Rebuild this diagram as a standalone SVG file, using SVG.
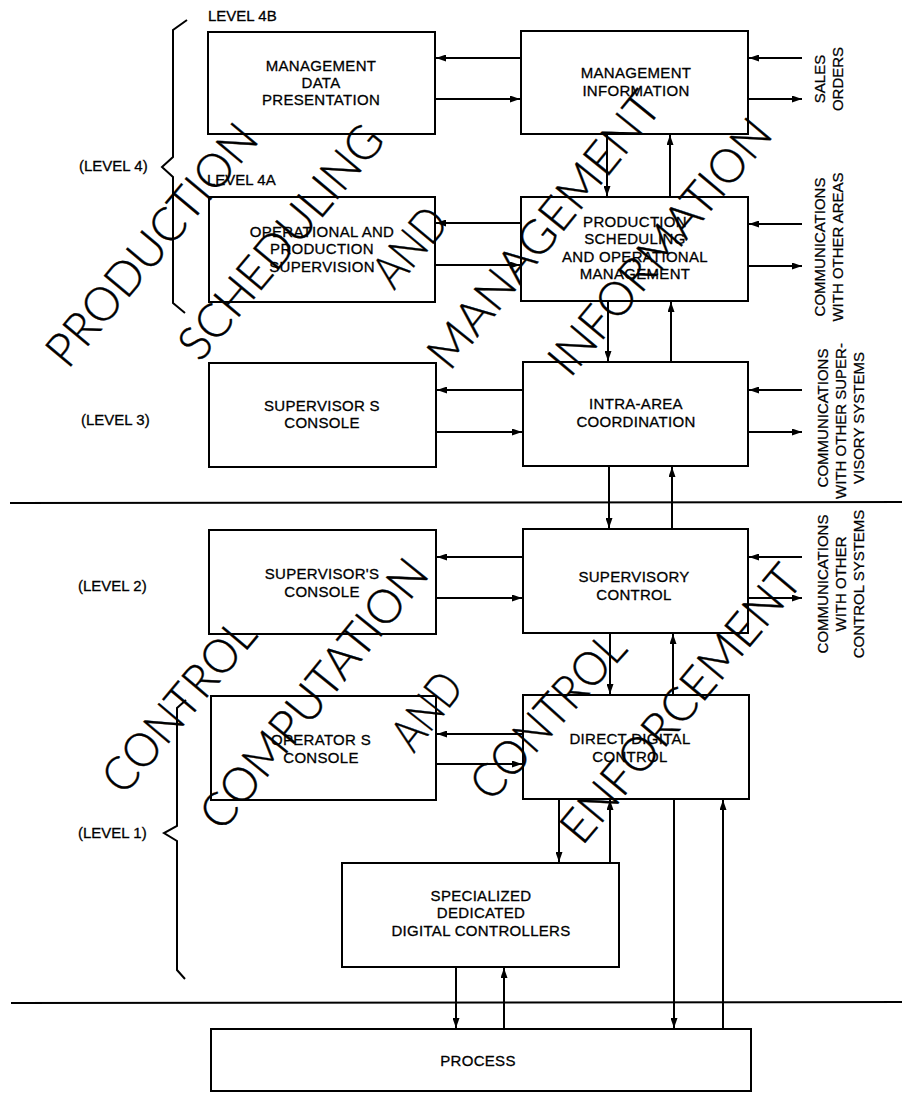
<svg xmlns="http://www.w3.org/2000/svg" width="902" height="1093" viewBox="0 0 902 1093">
  <defs>
    <marker id="ah" markerWidth="10" markerHeight="7" refX="10" refY="3.5" orient="auto" markerUnits="userSpaceOnUse">
      <path d="M0,0 L10,3.5 L0,7 z" fill="#000"/>
    </marker>
  </defs>
  <style>
    .box{fill:#fff;fill-opacity:0;stroke:#000;stroke-width:2}
    .t{font-family:"Liberation Sans",Arial,sans-serif;font-size:15px;fill:#000;stroke:#000;stroke-width:0.3;text-anchor:middle;letter-spacing:0.3px}
    .lv{font-family:"Liberation Sans",Arial,sans-serif;font-size:15px;fill:#000;stroke:#000;stroke-width:0.3}
    .side{font-family:"Liberation Sans",Arial,sans-serif;font-size:15px;fill:#000;stroke:#000;stroke-width:0.25;text-anchor:middle}
    .c{stroke:#000;stroke-width:2;fill:none}
    .a{marker-end:url(#ah)}
    .big{font-family:Lato,"Liberation Sans",sans-serif;font-weight:300;font-size:47px;fill:#000;stroke:#000;stroke-width:0.4;text-anchor:middle}
  </style>
  <rect width="902" height="1093" fill="#fff"/>

  <!-- level separators -->
  <g id="separators" class="c">
    <line x1="10" y1="503" x2="902" y2="502"/>
    <line x1="11" y1="1003" x2="902" y2="1002"/>
  </g>

  <!-- level braces and labels -->
  <g id="levels">
    <path class="c" d="M187,20 L173,30 L173,157 L162,167 L173,177 L173,303 L185,313"/>
    <path class="c" d="M186,700 L177,708 L177,826 L164,833 L177,841 L177,970 L185,979"/>
    <text class="lv" x="208" y="21">LEVEL 4B</text>
    <text class="lv" x="207" y="185">LEVEL 4A</text>
    <text class="lv" x="79" y="171">(LEVEL 4)</text>
    <text class="lv" x="81" y="425">(LEVEL 3)</text>
    <text class="lv" x="78" y="591">(LEVEL 2)</text>
    <text class="lv" x="78" y="838">(LEVEL 1)</text>
  </g>

  <!-- function blocks -->
  <g id="mgmt-data-presentation">
    <rect class="box" x="208" y="32" width="227" height="102"/>
    <text class="t" x="321" y="71">MANAGEMENT</text>
    <text class="t" x="321" y="88">DATA</text>
    <text class="t" x="321" y="105">PRESENTATION</text>
  </g>
  <g id="mgmt-information">
    <rect class="box" x="521" y="31" width="227" height="103"/>
    <text class="t" x="636" y="78">MANAGEMENT</text>
    <text class="t" x="636" y="96">INFORMATION</text>
  </g>
  <g id="ops-supervision">
    <rect class="box" x="209" y="197" width="226" height="105"/>
    <text class="t" x="322" y="237">OPERATIONAL AND</text>
    <text class="t" x="322" y="254">PRODUCTION</text>
    <text class="t" x="322" y="272">SUPERVISION</text>
  </g>
  <g id="prod-scheduling">
    <rect class="box" x="521" y="197" width="227" height="104"/>
    <text class="t" x="635" y="227">PRODUCTION</text>
    <text class="t" x="635" y="244">SCHEDULING</text>
    <text class="t" x="635" y="262">AND OPERATIONAL</text>
    <text class="t" x="635" y="279">MANAGEMENT</text>
  </g>
  <g id="supervisor-console-l3">
    <rect class="box" x="209" y="363" width="227" height="104"/>
    <text class="t" x="322" y="411">SUPERVISOR S</text>
    <text class="t" x="322" y="428">CONSOLE</text>
  </g>
  <g id="intra-area">
    <rect class="box" x="523" y="362" width="225" height="104"/>
    <text class="t" x="636" y="409">INTRA-AREA</text>
    <text class="t" x="636" y="427">COORDINATION</text>
  </g>
  <g id="supervisor-console-l2">
    <rect class="box" x="209" y="530" width="227" height="104"/>
    <text class="t" x="322" y="579">SUPERVISOR'S</text>
    <text class="t" x="322" y="597">CONSOLE</text>
  </g>
  <g id="supervisory-control">
    <rect class="box" x="523" y="529" width="225" height="104"/>
    <text class="t" x="634" y="582">SUPERVISORY</text>
    <text class="t" x="634" y="600">CONTROL</text>
  </g>
  <g id="operator-console">
    <rect class="box" x="211" y="696" width="225" height="104"/>
    <text class="t" x="321" y="745">OPERATOR S</text>
    <text class="t" x="321" y="763">CONSOLE</text>
  </g>
  <g id="direct-digital-control">
    <rect class="box" x="523" y="695" width="226" height="104"/>
    <text class="t" x="630" y="744">DIRECT DIGITAL</text>
    <text class="t" x="630" y="762">CONTROL</text>
  </g>
  <g id="dedicated-controllers">
    <rect class="box" x="342" y="863" width="277" height="104"/>
    <text class="t" x="481" y="901">SPECIALIZED</text>
    <text class="t" x="481" y="918">DEDICATED</text>
    <text class="t" x="481" y="936">DIGITAL CONTROLLERS</text>
  </g>
  <g id="process">
    <rect class="box" x="211" y="1029" width="540" height="62"/>
    <text class="t" x="478" y="1066">PROCESS</text>
  </g>

  <!-- connectors -->
  <g id="connectors" class="c">
    <!-- left column <-> right column -->
    <line class="a" x1="521" y1="58" x2="436" y2="58"/>
    <line class="a" x1="435" y1="99" x2="520" y2="99"/>
    <line class="a" x1="521" y1="223" x2="436" y2="223"/>
    <line class="a" x1="435" y1="265" x2="520" y2="265"/>
    <line class="a" x1="523" y1="390" x2="437" y2="390"/>
    <line class="a" x1="436" y1="432" x2="522" y2="432"/>
    <line class="a" x1="523" y1="557" x2="437" y2="557"/>
    <line class="a" x1="436" y1="598" x2="522" y2="598"/>
    <line class="a" x1="523" y1="734" x2="437" y2="734"/>
    <line class="a" x1="436" y1="764" x2="522" y2="764"/>
    <!-- external links -->
    <line class="a" x1="802" y1="58" x2="749" y2="58"/>
    <line class="a" x1="748" y1="99" x2="802" y2="99"/>
    <line class="a" x1="802" y1="224" x2="749" y2="224"/>
    <line class="a" x1="748" y1="266" x2="802" y2="266"/>
    <line class="a" x1="802" y1="390" x2="749" y2="390"/>
    <line class="a" x1="748" y1="432" x2="802" y2="432"/>
    <line class="a" x1="802" y1="557" x2="749" y2="557"/>
    <line class="a" x1="748" y1="598" x2="802" y2="598"/>
    <!-- vertical links in the hierarchy -->
    <line class="a" x1="607" y1="134" x2="607" y2="196"/>
    <line class="a" x1="670" y1="197" x2="670" y2="135"/>
    <line class="a" x1="608" y1="301" x2="608" y2="361"/>
    <line class="a" x1="671" y1="362" x2="671" y2="302"/>
    <line class="a" x1="609" y1="466" x2="609" y2="528"/>
    <line class="a" x1="672" y1="529" x2="672" y2="467"/>
    <line class="a" x1="610" y1="633" x2="610" y2="694"/>
    <line class="a" x1="673" y1="695" x2="673" y2="634"/>
    <line class="a" x1="559" y1="799" x2="559" y2="862"/>
    <line class="a" x1="610" y1="863" x2="610" y2="800"/>
    <line class="a" x1="456" y1="967" x2="456" y2="1028"/>
    <line class="a" x1="504" y1="1029" x2="504" y2="968"/>
    <line class="a" x1="674" y1="799" x2="674" y2="1028"/>
    <line class="a" x1="723" y1="1029" x2="723" y2="800"/>
  </g>

  <!-- external link labels -->
  <g id="external-labels">
    <text class="side" transform="translate(825,79) rotate(-90)">SALES</text>
    <text class="side" transform="translate(843,79) rotate(-90)">ORDERS</text>
    <text class="side" transform="translate(825,247) rotate(-90)">COMMUNICATIONS</text>
    <text class="side" transform="translate(843,247) rotate(-90)">WITH OTHER AREAS</text>
    <text class="side" transform="translate(828,418) rotate(-90)">COMMUNICATIONS</text>
    <text class="side" transform="translate(846,421) rotate(-90)">WITH OTHER SUPER-</text>
    <text class="side" transform="translate(864,418) rotate(-90)">VISORY SYSTEMS</text>
    <text class="side" transform="translate(828,584) rotate(-90)">COMMUNICATIONS</text>
    <text class="side" transform="translate(846,584) rotate(-90)">WITH OTHER</text>
    <text class="side" transform="translate(864,584) rotate(-90)">CONTROL SYSTEMS</text>
  </g>

  <!-- diagonal function-area titles -->
  <g id="area-titles" class="big">
    <text transform="translate(152,245) rotate(-50)" y="16" textLength="300" lengthAdjust="spacingAndGlyphs">PRODUCTION</text>
    <text transform="translate(281,242) rotate(-50)" y="16" textLength="290" lengthAdjust="spacingAndGlyphs">SCHEDULING</text>
    <text transform="translate(410,247) rotate(-50)" y="16" textLength="88" lengthAdjust="spacingAndGlyphs">AND</text>
    <text transform="translate(544,230) rotate(-51)" y="16" textLength="340" lengthAdjust="spacingAndGlyphs">MANAGEMENT</text>
    <text transform="translate(660,247) rotate(-50)" y="16" textLength="318" lengthAdjust="spacingAndGlyphs">INFORMATION</text>
    <text transform="translate(179,706) rotate(-50)" y="16" textLength="210" lengthAdjust="spacingAndGlyphs">CONTROL</text>
    <text transform="translate(314,694) rotate(-51)" y="16" textLength="332" lengthAdjust="spacingAndGlyphs">COMPUTATION</text>
    <text transform="translate(427,711) rotate(-52)" y="16" textLength="84" lengthAdjust="spacingAndGlyphs">AND</text>
    <text transform="translate(548,716) rotate(-48)" y="16" textLength="206" lengthAdjust="spacingAndGlyphs">CONTROL</text>
    <text transform="translate(681,704) rotate(-50)" y="16" textLength="346" lengthAdjust="spacingAndGlyphs">ENFORCEMENT</text>
  </g>
</svg>
